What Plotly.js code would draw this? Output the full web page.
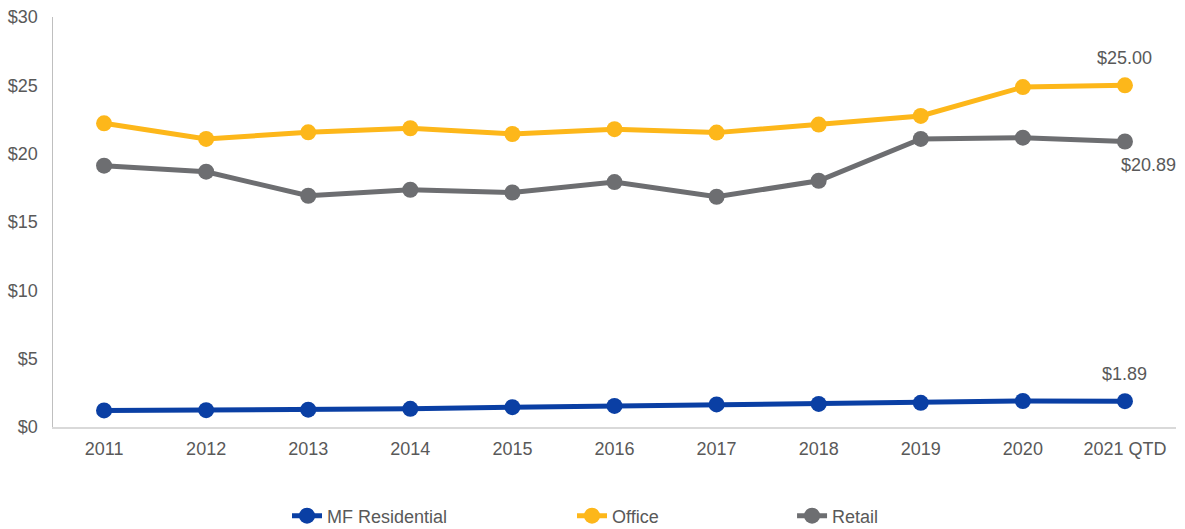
<!DOCTYPE html>
<html>
<head>
<meta charset="utf-8">
<script src="https://cdn.plot.ly/plotly-3.0.1.min.js"></script>
<style>html,body{margin:0;padding:0;background:#fff;}#chart{width:1185px;height:529px;}</style>
</head>
<body>
<div id="chart"></div>
<script>
const years = ["2011","2012","2013","2014","2015","2016","2017","2018","2019","2020","2021 QTD"];
const mfResidential = [1.21, 1.23, 1.27, 1.33, 1.45, 1.54, 1.65, 1.69, 1.77, 1.90, 1.89];
const office = [22.22, 21.08, 21.56, 21.86, 21.44, 21.79, 21.54, 22.13, 22.76, 24.87, 25.00];
const retail = [19.12, 18.68, 16.92, 17.36, 17.16, 17.92, 16.85, 18.02, 21.08, 21.17, 20.89];
const seriesNames = ["MF Residential", "Office", "Retail"];
const colors = ["#0A3FA4", "#FDB71A", "#6D6E71"];
const yTicks = [0, 5, 10, 15, 20, 25, 30];
const yTickText = ["$0", "$5", "$10", "$15", "$20", "$25", "$30"];

const font = {family: "Liberation Sans, Arial, sans-serif", size: 18, color: "#595959"};
const allSeries = [mfResidential, office, retail];
const legendIds = ["legend", "legend2", "legend3"];
const legendX = [0.2422, 0.4827, 0.6684];

const traces = allSeries.map((vals, i) => ({
  type: "scatter",
  mode: "lines+markers",
  x: years,
  y: vals,
  name: seriesNames[i],
  legend: legendIds[i],
  line: {color: colors[i], width: 5},
  marker: {color: colors[i], size: 16},
  cliponaxis: false,
  hoverinfo: "skip"
}));

const last = years.length - 1;
const annotations = [
  {x: years[last], y: office[last], text: "$" + office[last].toFixed(2), yshift: 27, xshift: 0},
  {x: years[last], y: retail[last], text: "$" + retail[last].toFixed(2), yshift: -23, xshift: 24},
  {x: years[last], y: mfResidential[last], text: "$" + mfResidential[last].toFixed(2), yshift: 27, xshift: 0}
].map(a => Object.assign({xref: "x", yref: "y", showarrow: false, font: font}, a));

const legendBase = {orientation: "h", xref: "container", yref: "container", y: 0.0246, yanchor: "middle",
  xanchor: "left", font: font, bgcolor: "rgba(0,0,0,0)"};

const layout = {
  width: 1185, height: 529,
  margin: {l: 53, r: 9, t: 17, b: 102},
  paper_bgcolor: "#fff", plot_bgcolor: "#fff",
  font: font,
  showlegend: true,
  legend: Object.assign({}, legendBase, {x: legendX[0]}),
  legend2: Object.assign({}, legendBase, {x: legendX[1]}),
  legend3: Object.assign({}, legendBase, {x: legendX[2]}),
  xaxis: {
    type: "category", range: [-0.5, 10.5], showgrid: false, zeroline: false,
    showline: true, linecolor: "#D9D9D9", linewidth: 1.5,
    ticks: "", tickfont: font, ticklabelstandoff: 5, fixedrange: true, automargin: false
  },
  yaxis: {
    range: [0, 30], tickvals: yTicks, ticktext: yTickText, showgrid: false, zeroline: false,
    showline: true, linecolor: "#BFBFBF", linewidth: 1.5, ticks: "", tickfont: font,
    ticklabelstandoff: 10, fixedrange: true, automargin: false
  },
  annotations: annotations
};

Plotly.newPlot("chart", traces, layout, {displayModeBar: false, staticPlot: true});
</script>
</body>
</html>
